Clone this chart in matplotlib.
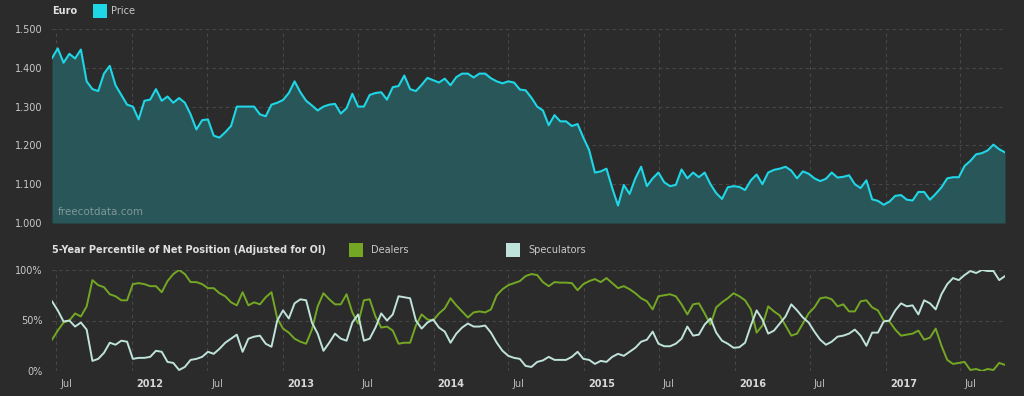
import matplotlib
matplotlib.use("Agg")
import matplotlib.pyplot as plt
import matplotlib.dates as mdates
from matplotlib.transforms import ScaledTranslation
from matplotlib.patches import Rectangle
import pandas as pd

# ---------------- data (bi-weekly samples) ----------------
start_date = "2011-06-21"
price = [1.425, 1.450, 1.413, 1.436, 1.424, 1.447, 1.365, 1.345, 1.340, 1.385,
         1.405, 1.355, 1.330, 1.305, 1.300, 1.267, 1.315, 1.318, 1.345, 1.315,
         1.326, 1.310, 1.322, 1.310, 1.280, 1.241, 1.265, 1.267, 1.225, 1.220,
         1.234, 1.250, 1.300, 1.300, 1.300, 1.300, 1.280, 1.275, 1.305, 1.310,
         1.317, 1.335, 1.365, 1.337, 1.315, 1.303, 1.290, 1.300, 1.305, 1.307,
         1.282, 1.296, 1.333, 1.300, 1.300, 1.330, 1.335, 1.337, 1.318, 1.350,
         1.353, 1.380, 1.345, 1.340, 1.356, 1.374, 1.368, 1.362, 1.372, 1.355,
         1.376, 1.385, 1.385, 1.375, 1.385, 1.385, 1.373, 1.365, 1.360, 1.365,
         1.362, 1.344, 1.342, 1.323, 1.300, 1.290, 1.252, 1.278, 1.262, 1.262,
         1.250, 1.255, 1.220, 1.188, 1.130, 1.133, 1.140, 1.090, 1.045, 1.098,
         1.075, 1.115, 1.145, 1.095, 1.115, 1.130, 1.105, 1.095, 1.098, 1.138,
         1.115, 1.130, 1.118, 1.130, 1.100, 1.077, 1.062, 1.092, 1.095, 1.093,
         1.085, 1.110, 1.125, 1.100, 1.130, 1.137, 1.140, 1.145, 1.135, 1.115,
         1.133, 1.127, 1.115, 1.108, 1.114, 1.130, 1.117, 1.119, 1.123, 1.100,
         1.090, 1.110, 1.061, 1.057, 1.047, 1.055, 1.070, 1.072, 1.060, 1.058,
         1.080, 1.080, 1.060, 1.075, 1.092, 1.115, 1.118, 1.118, 1.147, 1.160,
         1.177, 1.180, 1.187, 1.202, 1.190, 1.182]

dealers = [31, 40, 48, 50, 57, 54, 64, 90, 85, 83,
           76, 74, 70, 70, 86, 87, 86, 84, 84, 78,
           89, 96, 100, 96, 88, 88, 86, 82, 82, 77,
           74, 68, 65, 78, 65, 68, 66, 73, 78, 52,
           42, 38, 32, 29, 27, 41, 64, 77, 71, 66,
           66, 76, 58, 47, 70, 71, 54, 43, 44, 40,
           27, 28, 28, 45, 56, 51, 50, 57, 62, 72,
           65, 59, 53, 58, 59, 58, 61, 75, 81, 85,
           87, 89, 94, 96, 95, 88, 84, 88, 87.5, 87.5,
           87, 80, 86, 89, 91, 88, 92, 87, 82, 84,
           81, 77, 72, 69, 61, 74, 75, 76, 74, 66,
           56, 66, 67, 57, 46, 63, 68, 72, 77, 74,
           70, 61, 38, 45, 64, 59, 55, 45, 35, 37,
           47, 57, 63, 72, 73, 71, 64, 66, 59, 59,
           69, 70, 63, 60, 50, 49, 41, 35, 36, 37,
           40, 31, 33, 42, 25, 11, 7, 8, 9, 1,
           2, 0, 2, 1, 8, 6]

speculators = [69, 60, 49, 50, 44, 48, 41, 10, 12, 18,
               28, 26, 30, 29, 12, 13, 13, 14, 20, 19,
               9, 8, 1, 4, 11, 12, 14, 19, 17, 22,
               28, 32, 36, 19, 32, 34, 35, 27, 24, 50,
               60, 52, 67, 71, 70, 48, 37, 20, 28, 37,
               32, 30, 48, 56, 30, 32, 43, 57, 50, 56,
               74, 73, 72, 50, 42, 48, 51, 43, 39, 28,
               37, 43, 47, 44, 44, 45, 38, 28, 20, 15,
               13, 12, 5, 4, 9, 10.5, 14, 11, 11, 11,
               14, 19, 12, 11, 7, 10, 9, 14, 17, 15,
               19, 23, 29, 31, 39, 27, 24.5, 24.5, 27, 32,
               44, 35, 36, 46, 52, 38, 30, 27, 23, 23.5,
               28, 45, 60, 51, 37, 40, 47, 54, 66, 60,
               53, 48, 39, 31, 26, 29, 34, 35, 37, 41,
               35, 25, 38, 38, 49, 50, 60, 67, 64, 65,
               56, 70, 67, 61, 76, 86, 92, 90, 95, 99,
               97, 100, 99, 99, 90, 94]

price_ticks = [1.0, 1.1, 1.2, 1.3, 1.4, 1.5]
pct_ticks = [0, 50, 100]

dates = pd.date_range(start_date, periods=len(price), freq="14D")

# ---------------- style ----------------
BG = "#2b2b2b"
GRID = "#474747"
TXT = "#c9c9c9"
CYAN = "#1fd6e6"
FILL = "#295659"
GREEN = "#74a824"
LIGHT = "#bfe3da"

plt.rcParams["font.family"] = ["DejaVu Sans"]

W, H = 1024, 396
fig = plt.figure(figsize=(W / 100, H / 100), dpi=100, facecolor=BG)

def ax_rect(x0, y0, x1, y1):
    return [x0 / W, 1 - y1 / H, (x1 - x0) / W, (y1 - y0) / H]

ax1 = fig.add_axes(ax_rect(52, 29, 1005, 223))
ax2 = fig.add_axes(ax_rect(52, 270, 1005, 371))

month_ticks = pd.date_range("2011-07-01", "2017-07-01", freq="6MS")

for ax in (ax1, ax2):
    ax.set_facecolor(BG)
    for s in ax.spines.values():
        s.set_visible(False)
    ax.set_xlim(dates[0], dates[-1])
    ax.set_xticks(month_ticks)
    ax.grid(True, color=GRID, linestyle=(0, (3, 3)), linewidth=0.8)
    ax.set_axisbelow(True)
    ax.tick_params(length=0, colors=TXT, labelsize=7)

# Price panel
ax1.fill_between(dates, price, 1.0, color=FILL, linewidth=0, zorder=2)
ax1.plot(dates, price, color=CYAN, linewidth=1.5, zorder=3)
ax1.set_ylim(1.0, 1.5)
ax1.set_yticks(price_ticks)
ax1.set_yticklabels([f"{v:.3f}" for v in price_ticks])
ax1.tick_params(axis="y", pad=7)
ax1.tick_params(axis="x", labelbottom=False)
ax1.text(0.006, 0.055, "freecotdata.com", transform=ax1.transAxes,
         color="#8fa3a3", fontsize=7.5, alpha=0.85, zorder=4, va="center")

# Percentile panel
ax2.plot(dates, dealers, color=GREEN, linewidth=1.4, zorder=3)
ax2.plot(dates, speculators, color=LIGHT, linewidth=1.4, zorder=3)
ax2.set_ylim(0, 100)
ax2.set_yticks(pct_ticks)
ax2.set_yticklabels([f"{v}%" for v in pct_ticks])
ax2.tick_params(axis="y", pad=7)
ax2.tick_params(axis="x", pad=6)
labels = [("Jul" if d.month == 7 else str(d.year)) for d in month_ticks]
ax2.set_xticklabels(labels)
off = ScaledTranslation(4 / 100, 0, fig.dpi_scale_trans)
for lab, d in zip(ax2.get_xticklabels(), month_ticks):
    lab.set_horizontalalignment("left")
    lab.set_transform(lab.get_transform() + off)
    if d.month == 1:
        lab.set_fontweight("bold")
        lab.set_color("#d8d8d8")
    else:
        lab.set_color("#bdbdbd")

# Legends (figure-level)
def fx(px):
    return px / W

def fy(py):
    return 1 - py / H

fig.text(fx(52), fy(11), "Euro", color="#e0e0e0", fontsize=7, fontweight="bold", va="center")
fig.patches.append(Rectangle((fx(93), fy(18)), 14 / W, 14 / H, transform=fig.transFigure,
                             facecolor=CYAN, edgecolor="none"))
fig.text(fx(111), fy(11), "Price", color=TXT, fontsize=7, va="center")

fig.text(fx(52), fy(250), "5-Year Percentile of Net Position (Adjusted for OI)",
         color="#e0e0e0", fontsize=7, fontweight="bold", va="center")
fig.patches.append(Rectangle((fx(349), fy(257)), 14 / W, 14 / H, transform=fig.transFigure,
                             facecolor=GREEN, edgecolor="none"))
fig.text(fx(371), fy(250), "Dealers", color=TXT, fontsize=7, va="center")
fig.patches.append(Rectangle((fx(506), fy(257)), 14 / W, 14 / H, transform=fig.transFigure,
                             facecolor=LIGHT, edgecolor="none"))
fig.text(fx(528), fy(250), "Speculators", color=TXT, fontsize=7, va="center")

fig.savefig("out.png", dpi=100, facecolor=BG)
